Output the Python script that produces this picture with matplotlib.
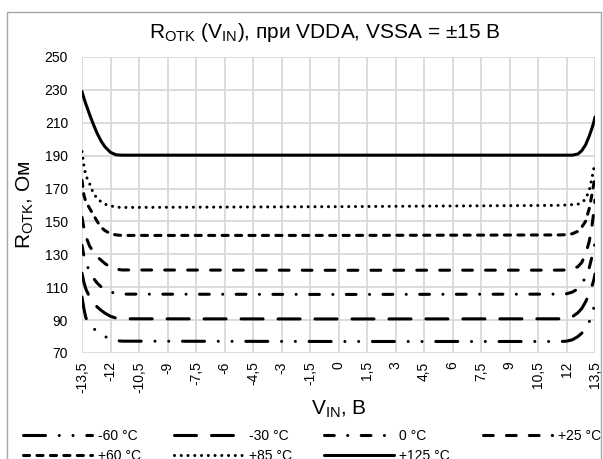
import numpy as np
import matplotlib

matplotlib.use("Agg")
import matplotlib.pyplot as plt
from matplotlib.patches import Rectangle

plt.rcParams["font.family"] = ["Liberation Sans", "DejaVu Sans"]

# Input voltage points (dense near the rails)
vin = [-13.5, -13.4, -13.3, -13.1, -12.9, -12.7, -12.5, -12.3, -12.0, -11.7, -11.4,
       0.0, 11.7, 12.0, 12.3, 12.6, 12.8, 13.0, 13.2, 13.35, 13.45, 13.5]

# On-resistance, Ohm, per temperature
r_m60 = [104, 97, 91.5, 87.5, 85, 83, 81.3, 80, 78.7, 77.6, 77.2,
         77.0, 77.0, 77.2, 78, 80, 82, 85, 89, 94, 98, 101]
r_m30 = [118.5, 113, 109, 104, 100.5, 98, 96, 94.3, 92.3, 91.2, 90.8,
         90.7, 90.8, 91, 92, 94.5, 97, 101, 106, 111, 115, 118]
r_0 = [135.5, 129, 125, 119.5, 115.5, 112.5, 110.3, 108.5, 107, 106.3, 105.8,
       105.6, 105.8, 106, 107, 109, 112, 116, 122, 129, 134, 137]
r_p25 = [152.5, 146, 141, 135, 131.5, 128.5, 126.5, 124.5, 122, 121, 120.5,
         120.3, 120.4, 120.5, 121, 122.5, 125, 130, 138, 148, 157, 163]
r_p60 = [175, 166, 162, 158, 154, 150, 146.5, 144.5, 142.5, 141.8, 141.5,
         141.5, 141.8, 142, 142.5, 144, 146.5, 150, 158, 167, 174, 178]
r_p85 = [192.5, 184, 178, 173, 167, 164, 162, 160.5, 159.5, 158.7, 158.5,
         159, 159.8, 160, 160.2, 160.5, 161.5, 163.5, 169, 177, 183, 186]
r_p125 = [229, 225, 221.5, 215, 209, 203.5, 199, 195.5, 192, 190.5, 190.3,
          190.3, 190.3, 190.3, 190.3, 191, 193, 196.5, 202, 207, 211, 213.5]

series = [r_m60, r_m30, r_0, r_p25, r_p60, r_p85, r_p125]
labels = ["-60 °C", "-30 °C", "0 °C", "+25 °C", "+60 °C", "+85 °C", "+125 °C"]
dashes = [(7.2, 4.5, 0.01, 4.5, 0.01, 4.5), (7.2, 4.9), (3.2, 4.4, 0.01, 4.4),
          (3.2, 4.3), (2.0, 2.4), (0.01, 2.2), None]

xticks = [-13.5, -12, -10.5, -9, -7.5, -6, -4.5, -3, -1.5, 0,
          1.5, 3, 4.5, 6, 7.5, 9, 10.5, 12, 13.5]
xticklabels = ["-13,5", "-12", "-10,5", "-9", "-7,5", "-6", "-4,5", "-3", "-1,5", "0",
               "1,5", "3", "4,5", "6", "7,5", "9", "10,5", "12", "13,5"]
yticks = [70, 90, 110, 130, 150, 170, 190, 210, 230, 250]

fig = plt.figure(figsize=(6.03, 4.59), dpi=100)
ax = fig.add_axes([82 / 603, 1 - 353 / 459, 513 / 603, 296 / 459])

# chart area border
fig.patches.append(Rectangle((7 / 603, -0.05), 594 / 603, 1.05 - 12 / 459,
                             transform=fig.transFigure, fill=False,
                             edgecolor="#a6a6a6", linewidth=1.0))

lines = []
for vals, lab, d in zip(series, labels, dashes):
    (ln,) = ax.plot(vin, vals, color="black", lw=2.2, label=lab,
                    dash_capstyle="round", solid_capstyle="round")
    if d is not None:
        ln.set_dashes(d)
    lines.append(ln)

ax.set_xlim(-13.5, 13.5)
ax.set_ylim(70, 250)
ax.set_xticks(xticks)
ax.set_xticklabels(xticklabels, rotation=90, fontsize=10)
ax.set_yticks(yticks)
ax.tick_params(axis="y", labelsize=10, pad=10)
ax.tick_params(axis="x", pad=6)
ax.tick_params(length=0)
ax.grid(True, color="#d9d9d9", linewidth=1.3)
ax.set_axisbelow(True)
for s in ax.spines.values():
    s.set_visible(False)

ax.set_xlabel(r"V$_{\mathregular{IN}}$, В", fontsize=15, labelpad=4)
ax.set_ylabel(r"R$_{\mathregular{OTK}}$, Ом", fontsize=15, labelpad=6)
fig.text(325 / 603, 1 - 33 / 459,
         r"R$_{\mathregular{OTK}}$ (V$_{\mathregular{IN}}$), при VDDA, VSSA = ±15 В",
         ha="center", va="center", fontsize=15)

order = [0, 4, 1, 5, 2, 6, 3]
fig.legend([lines[i] for i in order], [labels[i] for i in order],
           loc="upper left", bbox_to_anchor=(23 / 603, 1 - 429 / 459, 578 / 603, 0),
           mode="expand", ncol=4, frameon=False, fontsize=10,
           handlelength=5.0, handletextpad=0.4, labelspacing=0.4,
           borderpad=0, borderaxespad=0)

fig.savefig("out.png", dpi=100)
